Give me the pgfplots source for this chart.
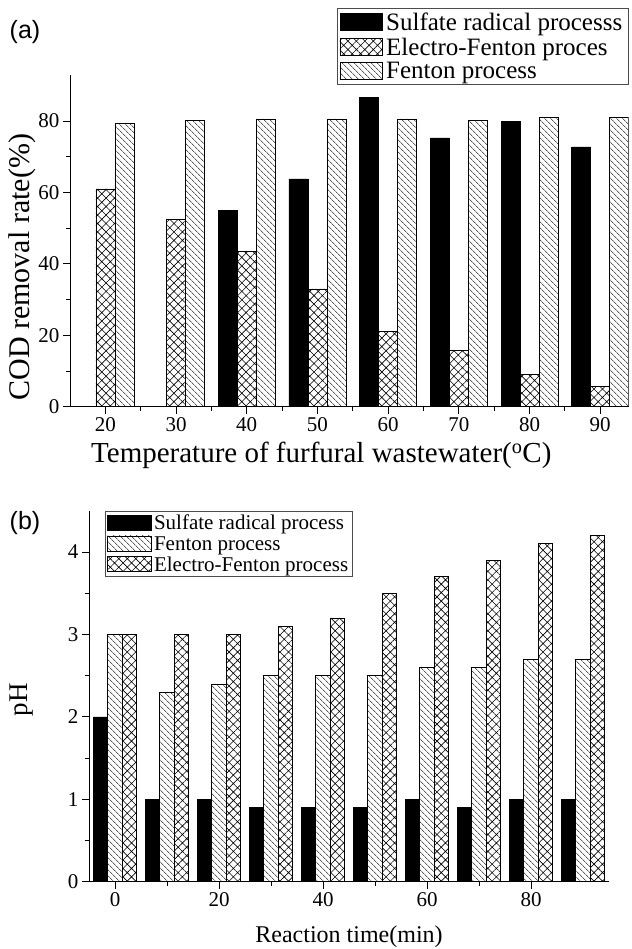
\documentclass[border=0pt]{standalone}
\usepackage{fontspec}
\setmainfont{Liberation Serif}
\newfontfamily\panelfont{Liberation Sans}
\usepackage{pgfplots}
\pgfplotsset{compat=1.18}
\usetikzlibrary{patterns.meta}

\pgfplotsset{
  panel/.style={
    scale only axis,
    axis x line*=bottom, axis y line*=left,
    tick align=outside,
    major tick length=7pt, minor tick length=4pt,
    minor tick num=1,
    every tick/.style={black, line width=0.8pt},
    axis line style={black, line width=0.8pt},
    /pgf/number format/assume math mode=true,
    tick label style={font=\fontsize{21}{21}\selectfont},
    legend cell align=left,
    legend style={draw=black!70, line width=0.6pt, inner sep=2pt},
  },
  sulf/.style={ybar, fill=black, draw=black, line width=0.6pt},
  elec/.style={ybar, draw=black, line width=0.6pt,
               pattern={Hatch[angle=45, distance=6pt, line width=0.6pt]}},
  fent/.style={ybar, draw=black, line width=0.6pt,
               pattern={Lines[angle=-45, distance=4pt, line width=0.6pt]}},
}

\begin{document}
\begin{tikzpicture}
\useasboundingbox (0,0) rectangle (631pt,949pt);

% (a) COD removal vs temperature
\begin{axis}[panel,
  at={(70pt,542.3pt)}, anchor=south west,
  width=558.5pt, height=332pt,
  xmin=15, xmax=94, ymin=0, ymax=93,
  xtick={20,30,...,90}, ytick={0,20,...,80},
  xlabel={Temperature of furfural wastewater($^{\mathrm{o}}$C)},
  ylabel={COD removal rate(\%)},
  xlabel style={font=\fontsize{29}{29}\selectfont, at={(axis description cs:0.45,-0.148)}, anchor=center},
  ylabel style={font=\fontsize{30}{30}\selectfont, at={(axis description cs:-0.086,0.42)}, anchor=center},
  legend style={at={(1,1.2)}, anchor=north east, font=\fontsize{25}{26}\selectfont, row sep=2pt,
                nodes={inner xsep=4pt}},
  legend image code/.code={\draw[#1, line width=0.6pt] (0pt,-8pt) rectangle (42pt,9pt);},
]
\addplot[sulf, bar width=19pt, bar shift=-19pt] coordinates {
  (40,55.0) (50,63.8) (60,86.7) (70,75.3) (80,80.0) (90,72.8)};
\addplot[elec, bar width=19pt, bar shift=0pt] coordinates {
  (20,61.0) (30,52.4) (40,43.6) (50,33.0) (60,21.0) (70,15.7) (80,9.0) (90,5.6)};
\addplot[fent, bar width=19pt, bar shift=19pt] coordinates {
  (20,79.3) (30,80.1) (40,80.6) (50,80.6) (60,80.6) (70,80.2) (80,81.1) (90,81.1)};
\legend{Sulfate radical processs, Electro-Fenton proces, Fenton process}
\end{axis}

% (b) pH vs reaction time
\begin{axis}[panel,
  at={(89pt,67.3pt)}, anchor=south west,
  width=520pt, height=371pt,
  xmin=-5, xmax=95, ymin=0, ymax=4.5,
  xtick={0,20,...,80}, ytick={0,1,...,4},
  xlabel={Reaction time(min)},
  ylabel={pH},
  xlabel style={font=\fontsize{24}{24}\selectfont, at={(axis description cs:0.5,-0.149)}, anchor=center},
  ylabel style={font=\fontsize{27}{27}\selectfont, at={(axis description cs:-0.129,0.49)}, anchor=center},
  legend style={at={(0.031,1.0)}, anchor=north west, font=\fontsize{21}{22}\selectfont, row sep=1pt},
  legend image code/.code={\draw[#1, line width=0.6pt] (0pt,-7pt) rectangle (44pt,8pt);},
]
\addplot[sulf, bar width=14.5pt, bar shift=-14.5pt] coordinates {
  (0,2.0) (10,1.0) (20,1.0) (30,0.9) (40,0.9) (50,0.9) (60,1.0) (70,0.9) (80,1.0) (90,1.0)};
\addplot[fent, bar width=14.5pt, bar shift=0pt] coordinates {
  (0,3.0) (10,2.3) (20,2.4) (30,2.5) (40,2.5) (50,2.5) (60,2.6) (70,2.6) (80,2.7) (90,2.7)};
\addplot[elec, bar width=14.5pt, bar shift=14.5pt] coordinates {
  (0,3.0) (10,3.0) (20,3.0) (30,3.1) (40,3.2) (50,3.5) (60,3.7) (70,3.9) (80,4.1) (90,4.2)};
\legend{Sulfate radical process, Fenton process, Electro-Fenton process}
\end{axis}

\node[font=\panelfont\fontsize{25}{25}\selectfont] at (25pt,917pt) {(a)};
\node[font=\panelfont\fontsize{25}{25}\selectfont] at (25pt,426pt) {(b)};
\end{tikzpicture}
\end{document}
